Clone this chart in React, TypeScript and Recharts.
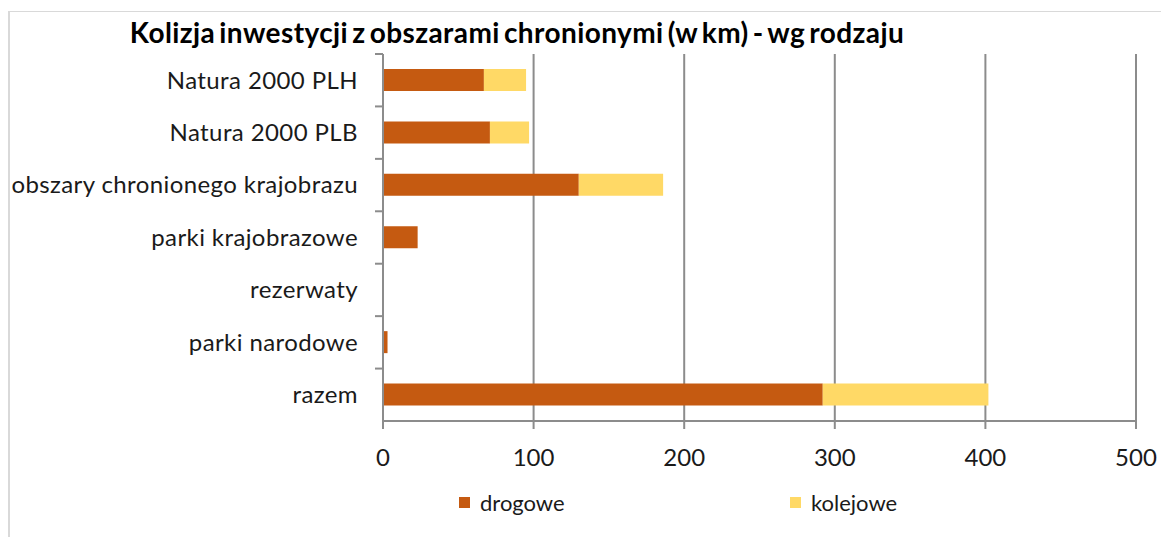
import { BarChart, Bar, XAxis, YAxis, CartesianGrid } from "recharts";

const categories = [
  "Natura 2000 PLH",
  "Natura 2000 PLB",
  "obszary chronionego krajobrazu",
  "parki krajobrazowe",
  "rezerwaty",
  "parki narodowe",
  "razem",
];
const drogowe = [67, 71, 130, 23, 0, 3, 292];
const kolejowe = [28, 26, 56, 0, 0, 0, 110];
const xTicks = [0, 100, 200, 300, 400, 500];

const data = categories.map((name, i) => ({
  name,
  drogowe: drogowe[i],
  kolejowe: kolejowe[i],
}));

const FONT = "Lato, 'DejaVu Sans', sans-serif";
const GRID = "#8c8c8c";
const BAND = (421 - 54) / categories.length;

// category label plus a tick mark on the band boundary (Excel style)
function CategoryTick(props: { x?: number; y?: number; payload?: { value?: string } }) {
  const { x = 0, y = 0, payload } = props;
  const top = y - BAND / 2;
  return (
    <g>
      <line x1={375} x2={383} y1={top} y2={top} stroke={GRID} strokeWidth={2} />
      <text
        x={358}
        y={y}
        dy="0.35em"
        textAnchor="end"
        fill="#1a1a1a"
        fontSize={24}
        fontFamily={FONT}
        letterSpacing={0.4}
      >
        {payload?.value}
      </text>
    </g>
  );
}

export default function App() {
  return (
    <div style={{ position: "absolute", left: 0, top: 0, width: 1161, height: 537, background: "#fff" }}>
      <div
        style={{
          position: "absolute",
          left: 8,
          top: 11,
          width: 1153,
          height: 526,
          borderTop: "1px solid #d9d9d9",
          borderLeft: "2px solid #d9d9d9",
        }}
      />
      <div
        style={{
          position: "absolute",
          left: 0,
          width: 1034,
          top: 15,
          textAlign: "center",
          fontFamily: FONT,
          fontWeight: 700,
          fontSize: 28,
          letterSpacing: 0.4,
          wordSpacing: -3,
          color: "#000",
        }}
      >
        Kolizja inwestycji z obszarami chronionymi (w km) - wg rodzaju
      </div>
      <BarChart
        width={1161}
        height={537}
        data={data}
        layout="vertical"
        margin={{ top: 54, right: 25, bottom: 0, left: 0 }}
        style={{ position: "absolute", left: 0, top: 0 }}
      >
        <CartesianGrid horizontal={false} stroke={GRID} strokeWidth={2} />
        <XAxis
          type="number"
          domain={[0, 500]}
          ticks={xTicks}
          interval={0}
          tickSize={8}
          tickMargin={20}
          axisLine={{ stroke: GRID, strokeWidth: 2 }}
          tickLine={{ stroke: GRID, strokeWidth: 2 }}
          tick={{ fill: "#1a1a1a", fontSize: 24, fontFamily: FONT }}
          height={116}
        />
        <YAxis
          type="category"
          dataKey="name"
          width={383}
          interval={0}
          tickLine={false}
          axisLine={{ stroke: GRID, strokeWidth: 2 }}
          tick={<CategoryTick />}
        />
        <Bar dataKey="drogowe" stackId="a" fill="#c55a11" barSize={22} isAnimationActive={false} />
        <Bar dataKey="kolejowe" stackId="a" fill="#ffd966" barSize={22} isAnimationActive={false} />
      </BarChart>
      <div
        style={{
          position: "absolute",
          top: 489,
          left: 459,
          display: "flex",
          alignItems: "center",
          fontFamily: FONT,
          fontSize: 22,
          color: "#1a1a1a",
        }}
      >
        <span style={{ display: "inline-block", width: 11, height: 11, background: "#c55a11", marginRight: 10 }} />
        <span style={{ width: 310 }}>drogowe</span>
        <span style={{ display: "inline-block", width: 11, height: 11, background: "#ffd966", marginRight: 10 }} />
        <span>kolejowe</span>
      </div>
    </div>
  );
}
